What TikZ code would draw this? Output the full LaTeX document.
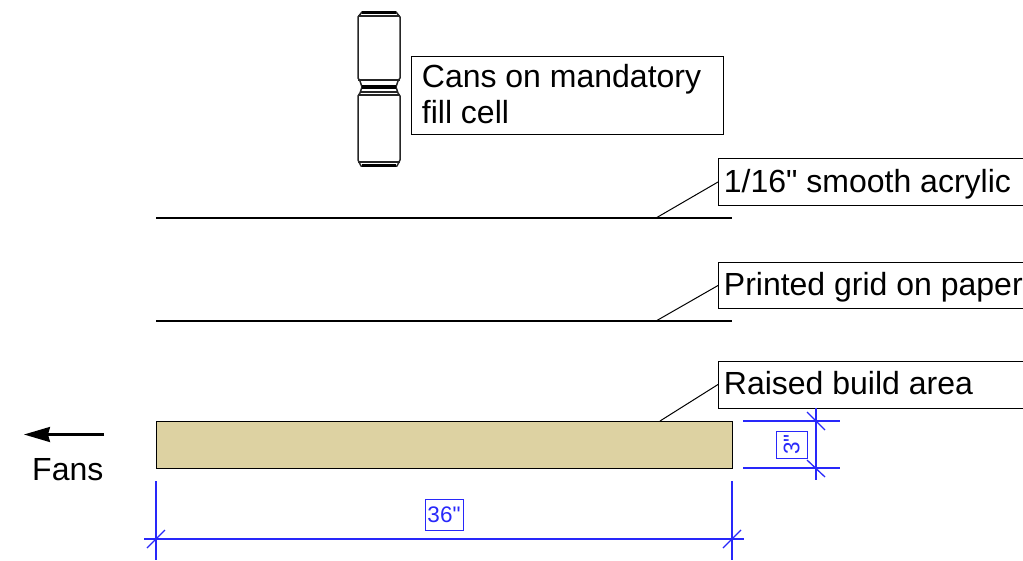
\documentclass[tikz,border=0pt]{standalone}
\usepackage{fontspec}
\newfontfamily\labfont{Liberation Sans}
\usetikzlibrary{arrows.meta}
\definecolor{dimblue}{RGB}{40,40,250}
\definecolor{woodfill}{HTML}{DDD2A2}
\tikzset{
  x=1pt,y=-1pt,
  callout/.style={draw=black,line width=1pt,fill=white,inner sep=0pt,anchor=north west},
  calltext/.style={font=\labfont\fontsize{32}{38}\selectfont,anchor=base west,inner sep=0pt},
  leader/.style={draw=black,line width=1pt},
  sheet/.style={draw=black,line width=2pt},
  dimline/.style={draw=dimblue,line width=1.3pt},
  dimbox/.style={draw=dimblue,line width=1pt,text=dimblue,font=\labfont\fontsize{22.5}{26}\selectfont,inner sep=0pt,minimum width=38pt,minimum height=31pt},
  canline/.style={draw=black!85,line width=1.5pt,line join=round},
  canband/.style={draw=black,line width=3.8pt},
}
\begin{document}
\begin{tikzpicture}
\useasboundingbox (0,0) rectangle (1023,560);
% can outlines
\draw[canline] (360,81) -- (358,78) -- (358,17) -- (362,12) -- (396,12) -- (400,17) -- (400,78) -- (398,81);
\draw[canline] (358,16) -- (400,16);
\draw[canline] (358,80) -- (400,80);
\draw[canline] (360,81) -- (362,87) -- (360,93) -- (358,96) -- (358,160) -- (361,166) -- (397,166) -- (400,160) -- (400,96) -- (398,93) -- (396,87) -- (398,81);
\draw[canline] (358,95) -- (400,95);
\draw[canline] (360,92) -- (398,92);
\draw[canline] (358,162) -- (400,162);
\draw[canband] (362,12.5) -- (396,12.5);
\draw[canband] (362,87) -- (396,87);
\draw[canband] (362,165.5) -- (396,165.5);
% sheets
\coordinate (s1a) at (156,218); \coordinate (s1b) at (732,218); \coordinate (s1l) at (656,218);
\coordinate (s2a) at (156,321); \coordinate (s2b) at (732,321); \coordinate (s2l) at (656,321);
\draw[sheet] (s1a) -- (s1b);
\draw[sheet] (s2a) -- (s2b);
% wood
\node[draw=black,line width=1pt,fill=woodfill,inner sep=0pt,minimum width=576pt,minimum height=47pt,anchor=north west] (wood) at (155.7,420.7) {};
\coordinate (woodl) at (660,421);
% callouts
\node[callout,minimum width=312pt,minimum height=78pt] (cans) at (411,56) {};
\node[calltext] (canst1) at (421.7,87) {Cans on mandatory};
\node[calltext] (canst2) at (421.7,123) {fill cell};
\node[callout,minimum width=320pt,minimum height=47pt] (acr) at (718,158) {};
\node[calltext] (acrt) at (723.7,192) {1/16" smooth acrylic};
\node[callout,minimum width=320pt,minimum height=46pt] (grid) at (718,262) {};
\node[calltext] (gridt) at (723.7,295) {Printed grid on paper};
\node[callout,minimum width=320pt,minimum height=47pt] (build) at (718,360.5) {};
\node[calltext] (buildt) at (723.7,394) {Raised build area};
\draw[leader] (acr.west) -- (s1l);
\draw[leader] (grid.west) -- (s2l);
\draw[leader] (build.west) -- (woodl);
% fans
\coordinate (fa) at (104,434.5); \coordinate (fb) at (24,434.5);
\draw[black,line width=2.3pt,-{Stealth[length=26pt,width=15pt,inset=2pt]}] (fa) -- (fb);
\node[calltext] (fans) at (32,480) {Fans};
% horizontal dimension
\coordinate (h1) at (156,481); \coordinate (h2) at (156,560);
\coordinate (h3) at (732,481); \coordinate (h4) at (732,560);
\coordinate (h5) at (144,539); \coordinate (h6) at (744,539);
\draw[dimline] (h1) -- (h2);
\draw[dimline] (h3) -- (h4);
\draw[dimline] (h5) -- (h6);
\draw[dimline] (147,548) -- (165,530);
\draw[dimline] (723,548) -- (741,530);
\node[dimbox] (d36) at (444,514.5) {36"};
% vertical dimension
\coordinate (v1) at (743,421); \coordinate (v2) at (840,421);
\coordinate (v3) at (743,468); \coordinate (v4) at (840,468);
\coordinate (v5) at (816,408); \coordinate (v6) at (816,480);
\draw[dimline] (v1) -- (v2);
\draw[dimline] (v3) -- (v4);
\draw[dimline] (v5) -- (v6);
\draw[dimline] (807,412) -- (825,430);
\draw[dimline] (807,460) -- (825,477);
\node[dimbox,rotate=90,minimum width=27pt,minimum height=31pt] (d3) at (791.5,444.5) {3"};
\end{tikzpicture}
\end{document}
